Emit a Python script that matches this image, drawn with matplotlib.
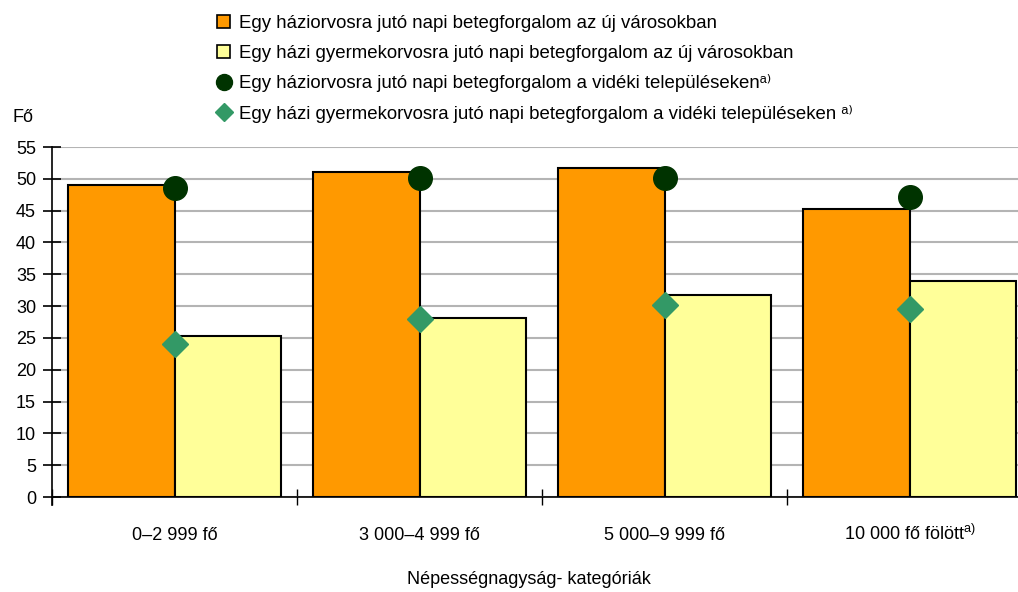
import matplotlib.pyplot as plt
import numpy as np
from matplotlib.lines import Line2D
from matplotlib.patches import Patch

categories = ['0–2 999 fő', '3 000–4 999 fő', '5 000–9 999 fő', '10 000 fő fölött$^{\\mathrm{a)}}$']
haziorvos_uj = [49.0, 51.1, 51.7, 45.2]
gyermekorvos_uj = [25.3, 28.2, 31.7, 33.9]
haziorvos_videki = [48.5, 50.1, 50.1, 47.2]
gyermekorvos_videki = [24.1, 28.0, 30.2, 29.6]

labels = [
    'Egy háziorvosra jutó napi betegforgalom az új városokban',
    'Egy házi gyermekorvosra jutó napi betegforgalom az új városokban',
    'Egy háziorvosra jutó napi betegforgalom a vidéki településekenᵃ⁾',
    'Egy házi gyermekorvosra jutó napi betegforgalom a vidéki településeken ᵃ⁾',
]

plt.rcParams['font.family'] = ['Liberation Sans', 'DejaVu Sans']
plt.rcParams['mathtext.fontset'] = 'custom'
plt.rcParams['mathtext.rm'] = 'Liberation Sans'

fig = plt.figure(figsize=(10.18, 5.92), dpi=100)
ax = fig.add_axes([52 / 1018, 1 - 497 / 592, 980 / 1018, 350 / 592])

x = np.arange(len(categories))
w = 0.435
ax.bar(x - w / 2, haziorvos_uj, w, color='#FF9900', edgecolor='black', lw=1.5, zorder=2)
ax.bar(x + w / 2, gyermekorvos_uj, w, color='#FFFF99', edgecolor='black', lw=1.5, zorder=2)
ax.plot(x, haziorvos_videki, 'o', color='#003300', ms=17, zorder=3, clip_on=False)
ax.plot(x, gyermekorvos_videki, 'D', color='#339966', ms=13, zorder=3, clip_on=False)

ax.set_xlim(-0.5, 3.5)
ax.set_ylim(0, 55)
ax.set_yticks(np.arange(0, 56, 5))
ax.yaxis.grid(True, color='#B4B4B4', lw=1.5, zorder=0)
ax.set_axisbelow(True)
for s in ['top', 'right']:
    ax.spines[s].set_visible(False)
ax.spines['left'].set_bounds(-1.3, 55)
ax.spines['left'].set_lw(1.2)
ax.spines['bottom'].set_lw(1.2)
ax.tick_params(axis='y', direction='inout', length=13, width=1.2, labelsize=13, pad=5)

ax.set_xticks(x)
ax.set_xticklabels(categories, fontsize=13)
ax.tick_params(axis='x', which='major', length=0, pad=31)
for lbl in ax.get_xticklabels():
    lbl.set_va('baseline')
ax.set_xticks(np.arange(-0.5, 4, 1), minor=True)
ax.tick_params(axis='x', which='minor', direction='inout', length=11.5, width=1.0)

fig.text(12 / 1018, 1 - 117 / 592, 'Fő', fontsize=13, va='center')
fig.text(529 / 1018, 1 - 580 / 592, 'Népességnagyság- kategóriák', fontsize=13,
         ha='center', va='center')

handles = [
    Patch(facecolor='#FF9900', edgecolor='black', lw=1.2),
    Patch(facecolor='#FFFF99', edgecolor='black', lw=1.2),
    Line2D([], [], ls='', marker='o', color='#003300', ms=11.5),
    Line2D([], [], ls='', marker='D', color='#339966', ms=9.5),
]
fig.legend(handles, labels, loc='upper left', bbox_to_anchor=(208 / 1018, 1 - 6 / 592),
           frameon=False, fontsize=13.4, handlelength=0.7, handleheight=0.7,
           handletextpad=0.45, labelspacing=0.67, borderpad=0)

fig.savefig('out.png', dpi=100)
